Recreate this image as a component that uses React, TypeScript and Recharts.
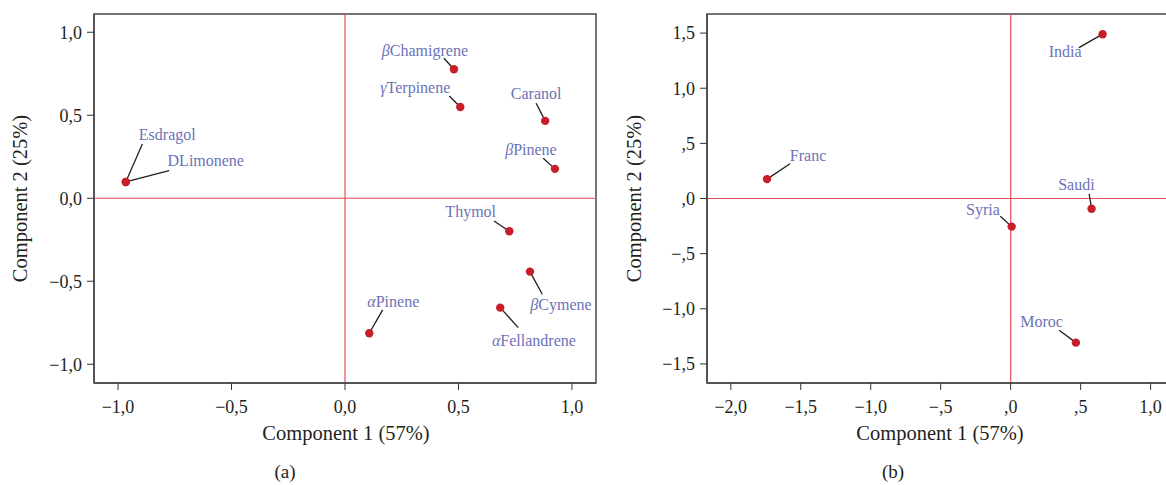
import { ScatterChart, Scatter, XAxis, YAxis, ReferenceLine, ReferenceArea } from 'recharts';

// panel (a): compounds
const compoundsA = ['Esdragol', 'DLimonene', 'βChamigrene', 'γTerpinene', 'Caranol', 'βPinene', 'Thymol', 'βCymene', 'αFellandrene', 'αPinene'];
const comp1A = [-0.966, -0.966, 0.48, 0.508, 0.882, 0.925, 0.724, 0.815, 0.684, 0.107];
const comp2A = [0.098, 0.098, 0.777, 0.55, 0.466, 0.177, -0.199, -0.442, -0.659, -0.813];
const ticksA = [-1, -0.5, 0, 0.5, 1];
const tickLabelsA = ['−1,0', '−0,5', '0,0', '0,5', '1,0'];

// panel (b): origins
const countriesB = ['India', 'Franc', 'Saudi', 'Syria', 'Moroc'];
const comp1B = [0.657, -1.741, 0.578, 0.007, 0.466];
const comp2B = [1.49, 0.176, -0.093, -0.255, -1.307];
const xTicksB = [-2, -1.5, -1, -0.5, 0, 0.5, 1];
const xTickLabelsB = ['−2,0', '−1,5', '−1,0', '−,5', ',0', ',5', '1,0'];
const yTicksB = [-1.5, -1, -0.5, 0, 0.5, 1, 1.5];
const yTickLabelsB = ['−1,5', '−1,0', '−,5', ',0', ',5', '1,0', '1,5'];

// label placement relative to the dot (px)
const placement: Record<string, { tx: number; ty: number; lx: number; ly: number }> = {
  Esdragol: { tx: 41.5, ty: -42, lx: 16.6, ly: -38 },
  DLimonene: { tx: 80, ty: -16.3, lx: 43.3, ly: -11.3 },
  'βChamigrene': { tx: -29, ty: -13.3, lx: -10, ly: -11 },
  'γTerpinene': { tx: -45, ty: -13.5, lx: -11, ly: -11 },
  Caranol: { tx: -9, ty: -22, lx: -9, ly: -17.7 },
  'βPinene': { tx: -24, ty: -14, lx: -11.7, ly: -10.7 },
  Thymol: { tx: -38.6, ty: -14, lx: -15.3, ly: -10.3 },
  'βCymene': { tx: 31, ty: 38.3, lx: 12.3, ly: 22.6 },
  'αFellandrene': { tx: 33.7, ty: 38, lx: 18, ly: 20 },
  'αPinene': { tx: 24, ty: -26.6, lx: 13.4, ly: -23.3 },
  India: { tx: -37.4, ty: 23, lx: -23.7, ly: 13.4 },
  Franc: { tx: 41, ty: -17.6, lx: 23, ly: -15.3 },
  Saudi: { tx: -15.2, ty: -18.6, lx: -2.4, ly: -15 },
  Syria: { tx: -28.7, ty: -12, lx: -11.3, ly: -10.3 },
  Moroc: { tx: -34.3, ty: -16, lx: -16.7, ly: -12.3 },
};

const serif = "'Liberation Serif', 'Times New Roman', serif";
const labelColor = '#6b73b6';
const dotColor = '#c81e2a';
const zeroColor = '#e2505a';
const frameColor = '#4a4a4a';

const dataA = compoundsA.map((name, i) => ({ name, x: comp1A[i], y: comp2A[i] }));
const dataB = countriesB.map((name, i) => ({ name, x: comp1B[i], y: comp2B[i] }));

function LabeledDot(props: any) {
  const { cx, cy, payload } = props;
  const p = placement[payload.name];
  const greek = /^[αβγ]/.test(payload.name);
  return (
    <g>
      <line x1={cx} y1={cy} x2={cx + p.lx} y2={cy + p.ly} stroke="#1e1e1e" strokeWidth={1.3} />
      <text x={cx + p.tx} y={cy + p.ty} textAnchor="middle" fontFamily={serif} fontSize={16} fill={labelColor}>
        {greek ? (
          <>
            <tspan fontStyle="italic">{payload.name[0]}</tspan>
            {payload.name.slice(1)}
          </>
        ) : (
          payload.name
        )}
      </text>
      <circle cx={cx} cy={cy} r={4.2} fill={dotColor} />
    </g>
  );
}

const tickStyle = { fontFamily: serif, fontSize: 18, fill: '#231f20' };

export default function App() {
  return (
    <div style={{ position: 'fixed', left: 0, top: 0, width: 1166, height: 485, overflow: 'hidden', background: '#fff' }}>
      <div style={{ position: 'absolute', left: 0, top: 0 }}>
        <ScatterChart width={600} height={485} margin={{ top: 14, right: 4, bottom: 42, left: 0 }}>
          <XAxis
            type="number"
            dataKey="x"
            domain={[-1.106, 1.106]}
            ticks={ticksA}
            tickFormatter={(v: number) => tickLabelsA[ticksA.indexOf(v)]}
            tick={tickStyle}
            tickSize={7}
            tickMargin={10}
            height={60}
            axisLine={{ stroke: frameColor, strokeWidth: 1.5 }}
            tickLine={{ stroke: '#333' }}
          />
          <YAxis
            type="number"
            dataKey="y"
            domain={[-1.113, 1.11]}
            ticks={ticksA}
            tickFormatter={(v: number) => tickLabelsA[ticksA.indexOf(v)]}
            tick={tickStyle}
            tickSize={7}
            tickMargin={5}
            width={94}
            axisLine={{ stroke: frameColor, strokeWidth: 1.5 }}
            tickLine={{ stroke: '#333' }}
          />
          <ReferenceArea x1={-1.106} x2={1.106} y1={-1.113} y2={1.11} fill="none" stroke={frameColor} strokeWidth={1.5} />
          <ReferenceLine x={0} stroke={zeroColor} strokeWidth={1.2} />
          <ReferenceLine y={0} stroke={zeroColor} strokeWidth={1.2} />
          <Scatter data={dataA} isAnimationActive={false} shape={(p: any) => <LabeledDot {...p} />} />
        </ScatterChart>
      </div>
      <div style={{ position: 'absolute', left: 600, top: 0 }}>
        <ScatterChart width={600} height={485} margin={{ top: 14, right: 20, bottom: 42, left: 0 }}>
          <XAxis
            type="number"
            dataKey="x"
            domain={[-2.17, 1.21]}
            ticks={xTicksB}
            tickFormatter={(v: number) => xTickLabelsB[xTicksB.indexOf(v)]}
            tick={tickStyle}
            tickSize={7}
            tickMargin={10}
            height={60}
            axisLine={{ stroke: frameColor, strokeWidth: 1.5 }}
            tickLine={{ stroke: '#333' }}
          />
          <YAxis
            type="number"
            dataKey="y"
            domain={[-1.673, 1.673]}
            ticks={yTicksB}
            tickFormatter={(v: number) => yTickLabelsB[yTicksB.indexOf(v)]}
            tick={tickStyle}
            tickSize={7}
            tickMargin={5}
            width={107}
            axisLine={{ stroke: frameColor, strokeWidth: 1.5 }}
            tickLine={{ stroke: '#333' }}
          />
          <ReferenceArea x1={-2.17} x2={1.21} y1={-1.673} y2={1.673} fill="none" stroke={frameColor} strokeWidth={1.5} />
          <ReferenceLine x={0} stroke={zeroColor} strokeWidth={1.2} />
          <ReferenceLine y={0} stroke={zeroColor} strokeWidth={1.2} />
          <Scatter data={dataB} isAnimationActive={false} shape={(p: any) => <LabeledDot {...p} />} />
        </ScatterChart>
      </div>
      <svg width={1166} height={485} style={{ position: 'absolute', left: 0, top: 0, pointerEvents: 'none' }}>
        <g fontFamily={serif} fill="#231f20">
          <text x={346} y={440} textAnchor="middle" fontSize={20.5}>Component 1 (57%)</text>
          <text x={27} y={198.5} textAnchor="middle" fontSize={20.5} transform="rotate(-90 27 198.5)">Component 2 (25%)</text>
          <text x={940} y={440} textAnchor="middle" fontSize={20.5}>Component 1 (57%)</text>
          <text x={641} y={198.5} textAnchor="middle" fontSize={20.5} transform="rotate(-90 641 198.5)">Component 2 (25%)</text>
          <text x={285} y={478} textAnchor="middle" fontSize={19}>(a)</text>
          <text x={893} y={478} textAnchor="middle" fontSize={19}>(b)</text>
        </g>
      </svg>
    </div>
  );
}
